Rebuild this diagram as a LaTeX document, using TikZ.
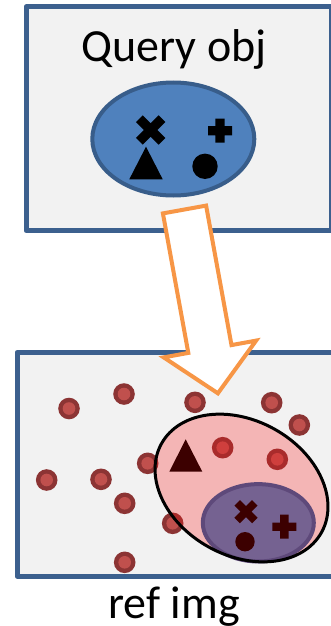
\documentclass[tikz,border=0pt]{standalone}
\usepackage{fontspec}
\setmainfont{Carlito}
\definecolor{boxfill}{RGB}{242,242,242}
\definecolor{boxline}{RGB}{60,96,142}
\definecolor{qfill}{RGB}{79,129,189}
\definecolor{qline}{RGB}{56,93,138}
\definecolor{arrowline}{RGB}{247,150,70}
\definecolor{dotring}{RGB}{140,52,52}
\definecolor{dotcore}{RGB}{192,80,77}
\definecolor{pinkfill}{RGB}{250,20,20}
\definecolor{purpfill}{RGB}{117,98,145}
\definecolor{purpline}{RGB}{94,73,122}
\definecolor{maroon}{RGB}{60,0,0}
\newcommand\plusmark[6]{\fill[#6,shift={(#1,#2)},rotate=#3] (-#4,-#5) -- (-#5,-#5) -- (-#5,-#4) -- (#5,-#4) -- (#5,-#5) -- (#4,-#5) -- (#4,#5) -- (#5,#5) -- (#5,#4) -- (-#5,#4) -- (-#5,#5) -- (-#4,#5) -- cycle;}
\newcommand\refdot[2]{\fill[dotring] (#1,#2) circle[radius=10.8]; \fill[dotcore] (#1,#2) circle[radius=6.3];}
\tikzset{
  panel/.style={draw=boxline, fill=boxfill, line width=5pt, line join=round},
  label/.style={font=\fontsize{46}{50}\selectfont, inner sep=0pt, anchor=base},
}
\begin{document}
\begin{tikzpicture}[x=1pt,y=-1pt]
\useasboundingbox (0,0) rectangle (330,626);
\fill[white] (0,0) rectangle (330,626);
% panels
\draw[panel] (26,7) rectangle (331,230.5);
\draw[panel] (17,352.5) rectangle (334,576);
% query ellipse
\draw[fill=qfill, draw=qline, line width=4pt] (173.3,139) ellipse[x radius=81, y radius=56.5];
\plusmark{150.7}{130}{45}{16}{4.8}{black}
\plusmark{220}{130.7}{0}{12}{4.6}{black}
\fill[black] (146,146.7) -- (162.7,179.3) -- (129.3,179.3) -- cycle;
\fill[black] (205,166.3) circle[radius=12.7];
% dots
\refdot{69}{408.5}
\refdot{124}{394}
\refdot{195}{402.3}
\refdot{271.7}{402.7}
\refdot{299.3}{425}
\refdot{222.7}{447.7}
\refdot{277.3}{459.3}
\refdot{147.7}{463.3}
\refdot{46.7}{480}
\refdot{101}{479.3}
\refdot{124.7}{503.3}
\refdot{172.7}{523.3}
\refdot{124.7}{562.3}
% pink region
\begin{scope}[shift={(241.5,488)},rotate=-29]
\fill[pinkfill, fill opacity=0.27] (0,0) ellipse[x radius=91.5, y radius=67.5];
\end{scope}
\fill[maroon] (185.7,439.3) -- (202.3,471.7) -- (169.3,471.7) -- cycle;
% purple region
\draw[fill=purpfill, draw=purpline, line width=4pt] (258.3,522.8) ellipse[x radius=55.5, y radius=38.7];
\plusmark{246}{511.7}{45}{12.5}{3.9}{maroon}
\plusmark{284.3}{526.7}{0}{12}{4.2}{maroon}
\fill[maroon] (245,541.7) circle[radius=9.7];
\begin{scope}[shift={(241.5,488)},rotate=-29]
\draw[black, line width=3pt] (0,0) ellipse[x radius=91.5, y radius=67.5];
\end{scope}
% arrow
\draw[draw=arrowline, fill=white, line width=4pt, line join=miter]
  (162.9,213.4) -- (206.1,205.6) -- (231.5,345.1) -- (256.1,340.6) -- (217.9,393.3) -- (163.7,357.4) -- (188.3,352.9) -- cycle;
% texts
\node[label] (qtitle) at (174,61.7) {Query obj};
\node[label] (rtitle) at (174,618.3) {ref img};
\end{tikzpicture}
\end{document}
